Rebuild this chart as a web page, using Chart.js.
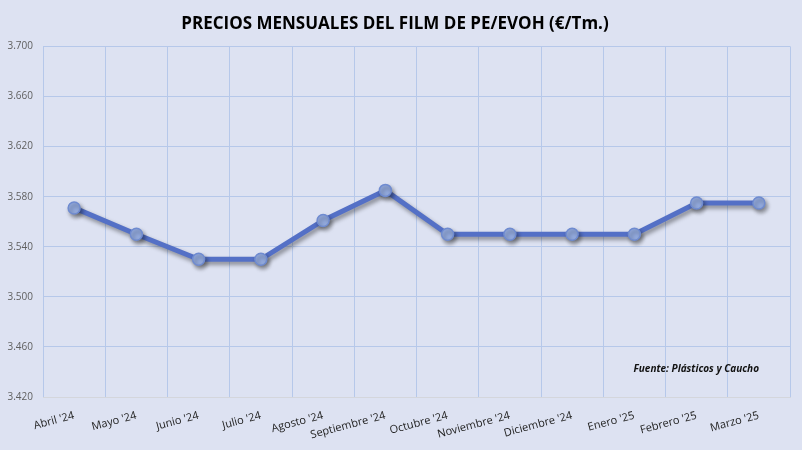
<!DOCTYPE html>
<html>
<head>
<meta charset="utf-8">
<script src="https://cdn.jsdelivr.net/npm/chart.js@4.4.1/dist/chart.umd.min.js"></script>
<style>
html,body{margin:0;padding:0;background:#dde2f2;}
#wrap{width:802px;height:450px;position:relative;}
</style>
</head>
<body>
<div id="wrap"><canvas id="c" width="802" height="450"></canvas></div>
<script>
const categories = ["Abril '24","Mayo '24","Junio '24","Julio '24","Agosto '24","Septiembre '24","Octubre '24","Noviembre '24","Diciembre '24","Enero '25","Febrero '25","Marzo '25"];
const prices = [3571, 3550, 3530, 3530, 3561, 3585, 3550, 3550, 3550, 3550, 3575, 3575];
const yMin = 3420, yMax = 3700, yStep = 40;
const titleText = "PRECIOS MENSUALES DEL FILM DE PE/EVOH (€/Tm.)";
const sourceText = "Fuente: Plásticos y Caucho";

function fmt(v){
  const s = Math.round(v).toString();
  return s.replace(/\B(?=(\d{3})+(?!\d))/g, ".");
}

const shadowPlugin = {
  id: 'shadow',
  beforeDatasetDraw(chart){
    const ctx = chart.ctx;
    ctx.save();
    ctx.shadowColor = 'rgba(0,0,0,0.4)';
    ctx.shadowBlur = 4;
    ctx.shadowOffsetX = 2;
    ctx.shadowOffsetY = 3;
  },
  afterDatasetDraw(chart){
    chart.ctx.restore();
  }
};

const sourcePlugin = {
  id: 'source',
  afterDraw(chart){
    const ctx = chart.ctx;
    const a = chart.chartArea;
    ctx.save();
    ctx.font = "italic bold 10px 'Open Sans', sans-serif";
    ctx.fillStyle = '#111';
    ctx.textAlign = 'right';
    ctx.textBaseline = 'middle';
    ctx.fillText(sourceText, a.right - 31, a.bottom - 28);
    ctx.restore();
  }
};

new Chart(document.getElementById('c'), {
  type: 'line',
  data: {
    labels: categories,
    datasets: [{
      data: prices,
      borderColor: '#5470c6',
      borderWidth: 5,
      pointRadius: 6,
      pointBackgroundColor: '#93aade',
      pointBorderColor: '#6f8bd0',
      pointBorderWidth: 1.5,
      tension: 0,
      fill: false
    }]
  },
  options: {
    responsive: false,
    animation: false,
    devicePixelRatio: 1,
    layout: { padding: { left: 0, right: 12, top: 0, bottom: 0 } },
    plugins: {
      legend: { display: false },
      tooltip: { enabled: false },
      title: {
        display: true,
        text: titleText,
        color: '#000',
        font: { family: "'Open Sans', sans-serif", size: 17, weight: 'bold' },
        padding: { top: 14, bottom: 12 }
      }
    },
    scales: {
      x: {
        offset: true,
        grid: { color: '#b6c8ea', lineWidth: 1, offset: true, drawTicks: false },
        border: { display: true, color: '#d4d6dc' },
        ticks: {
          color: '#222',
          font: { family: "'Open Sans', sans-serif", size: 11 },
          minRotation: 15, maxRotation: 15,
          autoSkip: false,
          padding: 12
        },
        afterFit(scale){
          scale.height = 53;
          scale.paddingLeft = 0;
          scale.paddingRight = 0;
        }
      },
      y: {
        min: yMin, max: yMax,
        grid: { color: '#b6c8ea', lineWidth: 1, drawTicks: false },
        border: { display: false },
        ticks: {
          stepSize: yStep,
          color: '#606060',
          font: { family: "'Open Sans', sans-serif", size: 10 },
          padding: 10,
          callback: v => fmt(v)
        },
        afterFit(scale){
          scale.width = 43;
          scale.paddingTop = 0;
          scale.paddingBottom = 0;
        }
      }
    }
  },
  plugins: [shadowPlugin, sourcePlugin]
});
</script>
</body>
</html>
